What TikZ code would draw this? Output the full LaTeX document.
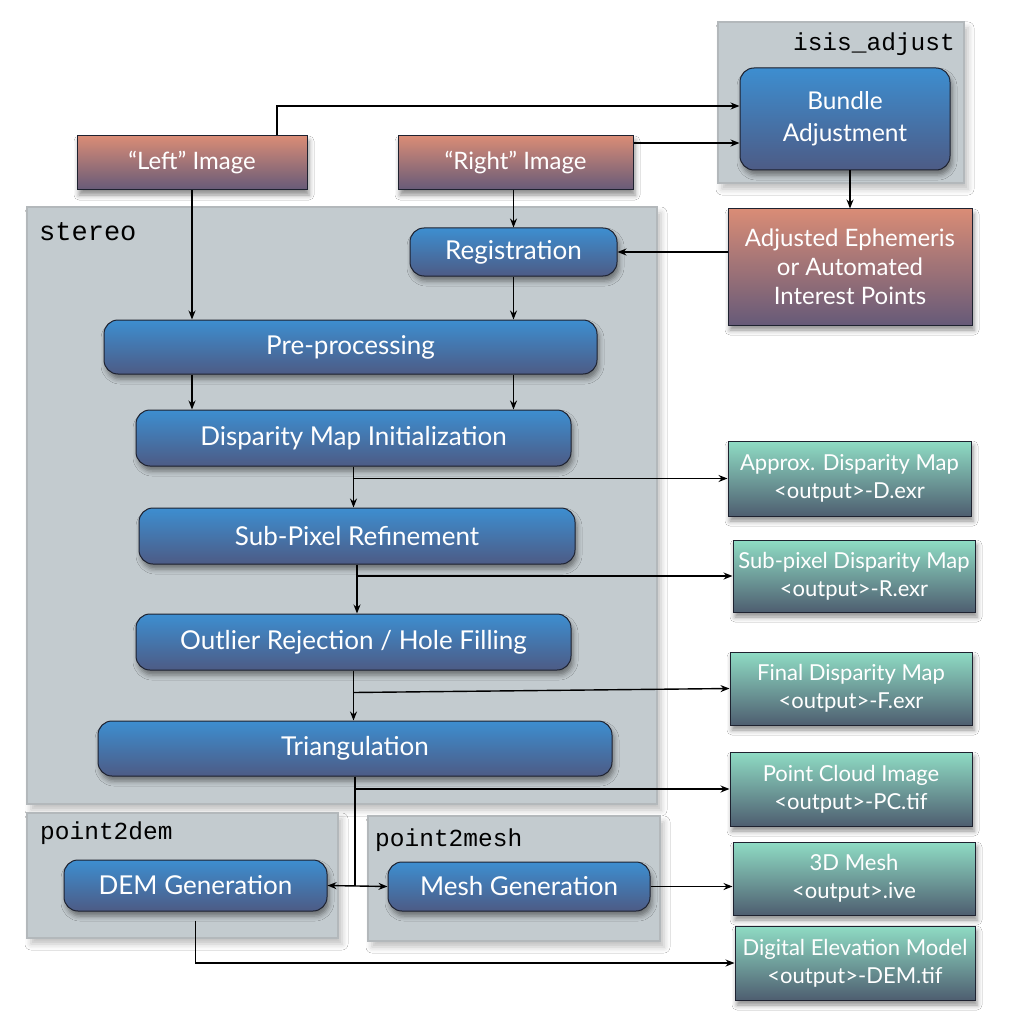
\documentclass[tikz,border=0pt]{standalone}
\usepackage{fontspec}
\setmainfont{Lato}
\setmonofont{Liberation Mono}
\usetikzlibrary{shadows.blur,arrows.meta}
\definecolor{btop}{HTML}{3D8ED0}
\definecolor{bbot}{HTML}{4D5B85}
\definecolor{rtop}{HTML}{D98C76}
\definecolor{rbot}{HTML}{665A78}
\definecolor{gtop}{HTML}{8FDCC4}
\definecolor{gbot}{HTML}{4E5E70}
\definecolor{cgray}{HTML}{C3CBCF}
\definecolor{cedge}{HTML}{B3B8BB}
\definecolor{edgedark}{HTML}{1E2230}
\tikzset{
  base/.style={draw=edgedark, line width=1pt, inner sep=0pt, text=white, align=center,
    font=\fontsize{26}{30}\selectfont,
    blur shadow={shadow xshift=2pt, shadow yshift=-5pt, shadow blur radius=5pt, shadow opacity=45}},
  proc/.style={base, rounded corners=14pt, top color=btop, bottom color=bbot},
  redbox/.style={base, top color=rtop, bottom color=rbot, font=\fontsize{24}{29}\selectfont},
  greenbox/.style={base, top color=gtop, bottom color=gbot, font=\fontsize{22}{28}\selectfont},
  container/.style={draw=cedge, fill=cgray, line width=2pt,
    blur shadow={shadow xshift=4pt, shadow yshift=-6pt, shadow blur radius=6pt, shadow opacity=25}},
  mlabel/.style={font=\ttfamily\fontsize{24.5}{24.5}\selectfont, inner sep=0pt},
  arr/.style={-{Stealth[length=9pt,width=7pt]}, line width=1.4pt, black},
  darr/.style={{Stealth[length=9pt,width=7pt]}-{Stealth[length=9pt,width=7pt]}, line width=1.4pt, black},
  ln/.style={line width=1.4pt, black}
}
\begin{document}
\begin{tikzpicture}[x=1pt,y=-1pt]
\useasboundingbox (0,0) rectangle (1024,1024);
\fill[white] (0,0) rectangle (1024,1024);
% containers
\node[container, minimum width=246pt, minimum height=161pt] (isisbox) at (841,102.5) {};
\node[mlabel, anchor=north east] (isislbl) at (955,33) {isis\_adjust};
\node[container, minimum width=630pt, minimum height=597pt] (stereobox) at (342,505.5) {};
\node[mlabel, anchor=north west, font=\ttfamily\fontsize{27}{27}\selectfont] (stereolbl) at (39,222) {stereo};
\node[container, minimum width=311pt, minimum height=125pt] (p2dbox) at (182.5,875.5) {};
\node[mlabel, anchor=north west] (p2dlbl) at (40,822) {point2dem};
\node[container, minimum width=292pt, minimum height=125pt] (p2mbox) at (514,878.5) {};
\node[mlabel, anchor=north west] (p2mlbl) at (375,829) {point2mesh};
% process boxes
\node[proc, minimum width=210pt, minimum height=102pt, font=\fontsize{24.5}{32}\selectfont] (bundle) at (845,119) {Bundle\\Adjustment};
\node[redbox, minimum width=230pt, minimum height=54pt] (left) at (192,163) {“Left” Image};
\node[redbox, minimum width=235pt, minimum height=54pt] (right) at (515.5,163) {“Right” Image};
\node[redbox, minimum width=244pt, minimum height=116pt] (adj) at (850,267) {Adjusted Ephemeris\\or Automated\\Interest Points};
\node[proc, minimum width=207pt, minimum height=48pt] (reg) at (513.5,252) {Registration};
\node[proc, minimum width=493pt, minimum height=54pt] (pre) at (350.5,347) {Pre-processing};
\node[proc, minimum width=435pt, minimum height=56pt] (dmi) at (353.5,438) {Disparity Map Initialization};
\node[proc, minimum width=436pt, minimum height=56pt] (spr) at (357,536) {Sub-Pixel Refinement};
\node[proc, minimum width=435pt, minimum height=56pt] (orh) at (353.5,642) {Outlier Rejection / Hole Filling};
\node[proc, minimum width=514pt, minimum height=55pt] (tri) at (355,748.5) {Triangulation};
\node[proc, minimum width=263pt, minimum height=51pt] (demg) at (195.5,885.5) {DEM Generation};
\node[proc, minimum width=262pt, minimum height=49pt] (meshg) at (519,886.5) {Mesh Generation};
% outputs
\node[greenbox, minimum width=243pt, minimum height=75pt] (approx) at (849.5,478.5) {Approx. Disparity Map\\<output>-D.exr};
\node[greenbox, minimum width=242pt, minimum height=72pt] (subpix) at (854,576) {Sub-pixel Disparity Map\\<output>-R.exr};
\node[greenbox, minimum width=242pt, minimum height=73pt] (final) at (851,688.5) {Final Disparity Map\\<output>-F.exr};
\node[greenbox, minimum width=242pt, minimum height=74pt] (pc) at (851,789) {Point Cloud Image\\<output>-PC.tif};
\node[greenbox, minimum width=242pt, minimum height=73pt] (mesh3d) at (854,878.5) {3D Mesh\\<output>.ive};
\node[greenbox, minimum width=240pt, minimum height=74pt] (demout) at (855,963) {Digital Elevation Model\\<output>-DEM.tif};
% connectors
\draw[arr] ([xshift=85pt]left.north) |- ([yshift=13pt]bundle.west);
\draw[arr] ([yshift=20pt]right.east) -- ([yshift=20pt]right.east -| bundle.west);
\draw[arr] (adj.north |- bundle.south) -- (adj.north);
\draw[arr] (adj.west |- reg.east) -- (reg.east);
\draw[arr] (reg.north |- right.south) -- (reg.north);
\draw[arr] (left.south) -- (left.south |- pre.north);
\draw[arr] (reg.south) -- (reg.south |- pre.north);
\draw[arr] (left.south |- pre.south) -- (left.south |- dmi.north);
\draw[arr] (reg.south |- pre.south) -- (reg.south |- dmi.north);
\draw[arr] (dmi.south) -- (dmi.south |- spr.north);
\draw[arr] (dmi.south |- approx.west) -- (approx.west);
\draw[arr] (spr.south) -- (spr.south |- orh.north);
\draw[arr] (spr.south |- subpix.west) -- (subpix.west);
\draw[arr] (orh.south) -- (orh.south |- tri.north);
\draw[arr] ([yshift=-4pt]orh.south |- final.west) -- (final.west);
\draw[ln] (tri.south) -- (tri.south |- demg.east);
\draw[arr] (tri.south |- pc.west) -- (pc.west);
\draw[darr] (demg.east) -- (meshg.west);
\draw[arr] (meshg.east) -- (meshg.east -| mesh3d.west);
\draw[arr] ([yshift=-9pt]demg.south) |- (demout.west);
\end{tikzpicture}
\end{document}
